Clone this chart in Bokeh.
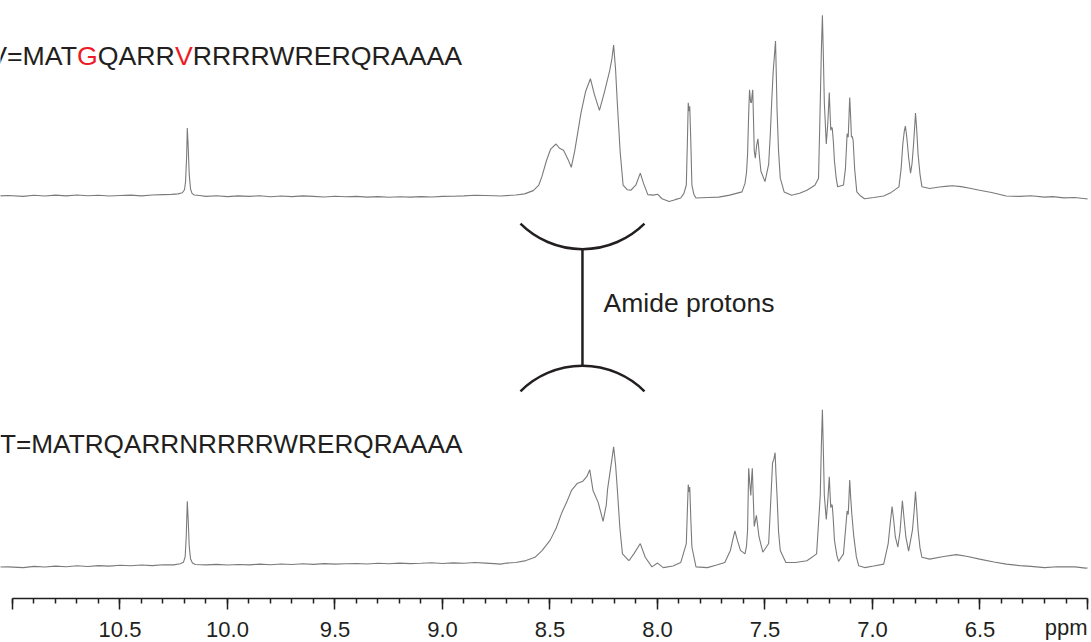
from bokeh.plotting import figure
from bokeh.models import Range1d, SingleIntervalTicker, CustomJSTickFormatter, ColumnDataSource
from bokeh.core.properties import value
from bokeh.embed import file_html
from bokeh.resources import INLINE

# ---------------- data ----------------
# chemical shift (ppm) and intensity (arbitrary units, tallest top peak = 100)
top_ppm = [11.06, 11.02, 10.95, 10.9, 10.85, 10.8, 10.75, 10.7, 10.65, 10.6, 10.55, 10.5, 10.45, 10.4, 10.35,
           10.3, 10.26, 10.23, 10.21, 10.2, 10.195, 10.19, 10.187, 10.183, 10.178, 10.172, 10.165,
           10.155, 10.13, 10.1, 10.05, 10.0, 9.95, 9.9, 9.85, 9.8, 9.75, 9.7, 9.65, 9.6, 9.55, 9.5,
           9.45, 9.4, 9.35, 9.3, 9.25, 9.2, 9.15, 9.1, 9.05, 9.0, 8.95, 8.9, 8.85, 8.8, 8.76,
           8.73, 8.659, 8.618, 8.578, 8.552, 8.537, 8.517, 8.497, 8.472, 8.456, 8.437, 8.415, 8.401,
           8.385, 8.356, 8.334, 8.312, 8.293, 8.270, 8.248, 8.222, 8.212, 8.204, 8.195, 8.187, 8.174,
           8.160, 8.141, 8.124, 8.101, 8.080, 8.065, 8.045, 8.019, 8.000, 7.979, 7.946, 7.918, 7.892,
           7.877, 7.866, 7.861, 7.857, 7.853, 7.850, 7.845, 7.840, 7.831, 7.821, 7.765, 7.715, 7.664,
           7.607, 7.593, 7.586, 7.581, 7.576, 7.572, 7.567, 7.563, 7.560, 7.557, 7.553, 7.550, 7.545,
           7.539, 7.533, 7.526, 7.519, 7.500, 7.483, 7.475, 7.469, 7.462, 7.456, 7.451, 7.447, 7.444,
           7.437, 7.429, 7.411, 7.376, 7.339, 7.305, 7.268, 7.251, 7.243, 7.238, 7.233, 7.229, 7.224,
           7.215, 7.208, 7.201, 7.197, 7.194, 7.190, 7.187, 7.182, 7.177, 7.169, 7.162, 7.135, 7.126,
           7.118, 7.113, 7.109, 7.106, 7.101, 7.098, 7.094, 7.090, 7.083, 7.073, 7.055, 7.037, 6.994,
           6.948, 6.913, 6.877, 6.867, 6.859, 6.852, 6.847, 6.840, 6.832, 6.823, 6.816, 6.809, 6.804,
           6.800, 6.795, 6.788, 6.779, 6.770, 6.734, 6.689, 6.649, 6.627, 6.588, 6.547, 6.502, 6.446,
           6.378, 6.314, 6.263, 6.200, 6.161, 6.110, 6.060, 6.009, 5.958, 5.938]
top_int = [0.1, 0.3, -0.2, 0.4, 0.0, 0.5, 0.1, 0.6, 0.2, 0.4, 0.0, 0.3, 0.5, 0.1, 0.6,
           0.8, 0.9, 1.2, 1.8, 3.5, 8, 22, 37.6, 28, 12, 4, 1.5,
           0.6, 0.3, -0.2, 0.2, -0.3, 0.1, -0.2, 0.2, -0.4, 0.0, -0.3, 0.1, -0.2, -0.5, -0.1,
           -0.4, -0.2, -0.6, -0.3, -0.7, -0.4, -0.6, -0.3, -0.5, -0.2, -0.1, 0.1, 0.4, 0.3, 0.2,
           0.0, 0.6, 1.2, 3.0, 6.1, 11, 19.4, 26, 28.8, 26.5, 25.4, 20, 15.9,
           25, 45.9, 58, 64.9, 56, 47.4, 57, 69.6, 76, 83.5, 70, 51.6, 25,
           6.1, 3.5, 3.2, 6, 12.7, 7, 0.8, 0.5, 1.0, -1.5, -3.0, -2, -1.1,
           1.5, 6.1, 30, 51.6, 47, 49.7, 30, 6.1, 1, -1.1, -0.8, -0.6, 0.5,
           2.3, 7, 13, 23.1, 45, 58.8, 52, 51.6, 56, 58.8, 40, 25.0, 20.9,
           28, 31.7, 22, 13.7, 8.0, 17.5, 35, 51.6, 68.7, 78, 85.8, 65, 47.8,
           25, 9.9, 2.3, 0.4, 1.5, 3.2, 6, 9.9, 51.6, 80, 100, 80, 51.6,
           28.8, 40, 57.3, 45, 36.4, 38, 37.4, 30, 19.4, 10, 5.1, 6.1, 15,
           34.5, 32.6, 45, 54.5, 42, 32.6, 33, 30.7, 15, 2.3, 0, -1.5, -0.8,
           0, 2, 5.1, 15, 28.8, 36, 38.7, 32, 21.3, 12.7, 18, 28.8, 38,
           45.9, 38, 23.1, 12, 5.1, 4.2, 5, 5.5, 5.7, 5.2, 4.3, 3.2, 2,
           0, -0.2, 0.2, -0.6, -0.3, -1.0, -0.8, -1.5, -1.9, -1.7]

bot_ppm = [11.06, 11.02, 10.95, 10.9, 10.85, 10.8, 10.75, 10.7, 10.65, 10.6, 10.55, 10.5, 10.45, 10.4, 10.35,
           10.3, 10.25, 10.22, 10.205, 10.197, 10.192, 10.187, 10.183, 10.178, 10.172, 10.163,
           10.15, 10.1, 10.05, 10.0, 9.95, 9.9, 9.85, 9.8, 9.75, 9.7, 9.65, 9.6, 9.55, 9.5, 9.45,
           9.4, 9.35, 9.3, 9.25, 9.2, 9.15, 9.1, 9.05, 9.0, 8.95, 8.9, 8.85, 8.8, 8.76,
           8.730, 8.700, 8.659, 8.618, 8.570, 8.537, 8.499, 8.471, 8.445, 8.420, 8.400, 8.374, 8.347,
           8.329, 8.315, 8.300, 8.276, 8.253, 8.238, 8.232, 8.217, 8.204, 8.195, 8.187, 8.175,
           8.163, 8.133, 8.110, 8.080, 8.057, 8.026, 8.000, 7.973, 7.928, 7.892, 7.866, 7.861,
           7.857, 7.853, 7.850, 7.845, 7.840, 7.821, 7.768, 7.725, 7.687, 7.661, 7.649, 7.640,
           7.628, 7.614, 7.593, 7.586, 7.581, 7.576, 7.571, 7.566, 7.562, 7.559, 7.554, 7.550,
           7.540, 7.528, 7.510, 7.483, 7.472, 7.465, 7.459, 7.453, 7.449, 7.444, 7.437, 7.429,
           7.403, 7.358, 7.305, 7.260, 7.243, 7.238, 7.233, 7.229, 7.224, 7.215, 7.208, 7.201,
           7.197, 7.194, 7.190, 7.187, 7.182, 7.177, 7.166, 7.158, 7.135, 7.118, 7.113, 7.109,
           7.106, 7.101, 7.096, 7.087, 7.075, 7.064, 7.037, 6.994, 6.948, 6.927, 6.918, 6.909,
           6.901, 6.894, 6.882, 6.872, 6.861, 6.853, 6.845, 6.832, 6.814, 6.806, 6.800, 6.794,
           6.788, 6.779, 6.770, 6.734, 6.669, 6.610, 6.557, 6.502, 6.435, 6.378, 6.314, 6.263, 6.200,
           6.141, 6.058, 6.009, 5.959, 5.938]
bot_int = [-1.6, -1.5, -1.9, -1.2, -1.6, -1.1, -1.4, -0.9, -1.3, -0.8, -1.1, -0.6, -0.9, -0.5, -0.8,
           -0.3, -0.4, 0.2, 1.0, 4, 15, 34.8, 25, 10, 3, 0.6,
           -0.2, -0.4, -0.1, -0.5, -0.2, -0.4, 0.0, -0.3, 0.1, -0.2, 0.2, -0.1, 0.3, 0.0, 0.2,
           0.4, 0.1, 0.5, 0.2, 0.6, 0.3, 0.5, 0.8, 0.4, 0.7, 0.5, 0.9, 0.6, 0.3,
           0, 0.6, 0.9, 1.8, 3.8, 7.5, 13.3, 20, 28.5, 35, 40.8, 44.6, 45.9,
           48.4, 52.2, 40.8, 34.2, 23.7, 33, 41.7, 54, 64.9, 55, 41.7, 20,
           5.7, 1.9, 5.7, 11.4, 3.8, -1.5, 0.6, -1.9, -1.0, 0.9, 11.4, 30,
           44.0, 40, 42.7, 25, 9.5, -1.5, -1.9, -0.5, 0.9, 7.6, 14, 18.4,
           13, 7.6, 5.7, 10, 19.0, 53.1, 45, 38, 48, 53.1, 35, 20.9,
           27, 15.2, 6.6, 11.4, 38, 56, 58, 61.7, 50, 38, 18, 7.6,
           0.9, 0.9, 1.9, 5.7, 38, 65, 85.4, 65, 38, 24.7, 35, 48.4,
           38, 31.3, 33, 32.3, 24, 13.3, 5, 1.5, 5.7, 29.4, 27.5, 38,
           46.5, 36, 27.5, 15.2, 4, -0.9, -1.9, -1.0, 0, 11.4, 22, 31.9,
           24, 15.2, 9.5, 18, 35.1, 25, 15.2, 7.2, 19, 30, 40.2, 30,
           19, 9, 3.8, 2.8, 4.2, 5.3, 4.2, 2.8, 1.2, 0, -0.8, -1.2, -1.9,
           -1.4, -1.5, -2.2, -1.9, -2.0]

top_offset = 203.7
bot_offset = 0.0

top_seq = ["V=MAT", "G", "QARR", "V", "RRRRWRERQRAAAA"]
top_seq_colors = ["#231f20", "#ed1c24", "#231f20", "#ed1c24", "#231f20"]
bot_seq = "T=MATRQARRNRRRRWRERQRAAAA"
annot_text = "Amide protons"
unit_text = "ppm"

# ---------------- figure ----------------
# The ppm axis runs right-to-left; it is drawn on a negated coordinate (x = -ppm)
# so the unit label can sit at the right end of the axis.
INK = "#231f20"
FONT = "Liberation Sans"

p = figure(width=1091, height=642, x_range=Range1d(-11.0558, -6.0), y_range=Range1d(-19, 311.9),
           toolbar_location=None, output_backend="svg", y_axis_location=None,
           min_border_left=0, min_border_right=4, min_border_top=0, min_border_bottom=43)
p.outline_line_color = None
p.xgrid.visible = False
p.ygrid.visible = False
p.background_fill_color = "white"
p.border_fill_color = "white"

ax = p.xaxis[0]
ax.ticker = SingleIntervalTicker(interval=0.5, num_minor_ticks=5)
ax.bounds = (-11.0, -6.0)
ax.formatter = CustomJSTickFormatter(
    code="const v = -tick; return (v > 10.99 || v < 6.01) ? '' : v.toFixed(1);")
ax.axis_line_color = INK
ax.axis_line_width = 1.5
ax.major_tick_line_color = INK
ax.major_tick_line_width = 1.5
ax.minor_tick_line_color = INK
ax.minor_tick_line_width = 1.5
ax.major_tick_in = 0
ax.major_tick_out = 11
ax.minor_tick_in = 0
ax.minor_tick_out = 5
ax.major_label_standoff = 12
ax.major_label_text_font = FONT
ax.major_label_text_font_size = "22px"
ax.major_label_text_color = INK

# unit label: centred on the axis end, padded on the right so that "ppm" ends at the axis end
ax.axis_label = unit_text + "\u00a0" * 7
ax.axis_label_align = "end"
ax.axis_label_standoff = -25
ax.axis_label_text_font = FONT
ax.axis_label_text_font_size = "22px"
ax.axis_label_text_font_style = "normal"
ax.axis_label_text_color = INK

src_top = ColumnDataSource(dict(x=[-v for v in top_ppm], y=[v + top_offset for v in top_int]))
src_bot = ColumnDataSource(dict(x=[-v for v in bot_ppm], y=[v + bot_offset for v in bot_int]))
p.line("x", "y", source=src_top, line_color="#7a7a7a", line_width=1.1)
p.line("x", "y", source=src_bot, line_color="#7a7a7a", line_width=1.1)

# sequence labels
FS_TOP = 26.7
FS_BOT = 26.2
seq_widths_em = [3.288, 0.778, 2.889, 0.667]
off = [0.0]
for w in seq_widths_em:
    off.append(off[-1] + w * FS_TOP)
p.text(x=[-11.1084] * len(top_seq), y=[281.0] * len(top_seq), text=top_seq, x_offset=off,
       text_color=top_seq_colors, text_font=value(FONT), text_font_size=f"{FS_TOP}px",
       text_baseline="middle", text_align="left")
p.text(x=[-11.0581], y=[66.6], text=[bot_seq], text_color=INK, text_font=value(FONT),
       text_font_size=f"{FS_BOT}px", text_baseline="middle", text_align="left")

# bracket annotation
bx = -8.349
p.segment(x0=[bx], y0=[174.4], x1=[bx], y1=[109.7], line_color=INK, line_width=2.5)
p.arc(x=[bx], y=[223.0], radius=88, radius_units="screen", start_angle=-134.8, end_angle=-45.2,
      start_angle_units="deg", end_angle_units="deg", line_color=INK, line_width=2.5)
p.arc(x=[bx], y=[61.1], radius=88, radius_units="screen", start_angle=45.2, end_angle=134.8,
      start_angle_units="deg", end_angle_units="deg", line_color=INK, line_width=2.5)
p.text(x=[-8.251], y=[144.5], text=[annot_text], text_color=INK, text_font=value(FONT),
       text_font_size="26.5px", text_baseline="middle", text_align="left")

open("out.html", "w").write(file_html(p, INLINE))
